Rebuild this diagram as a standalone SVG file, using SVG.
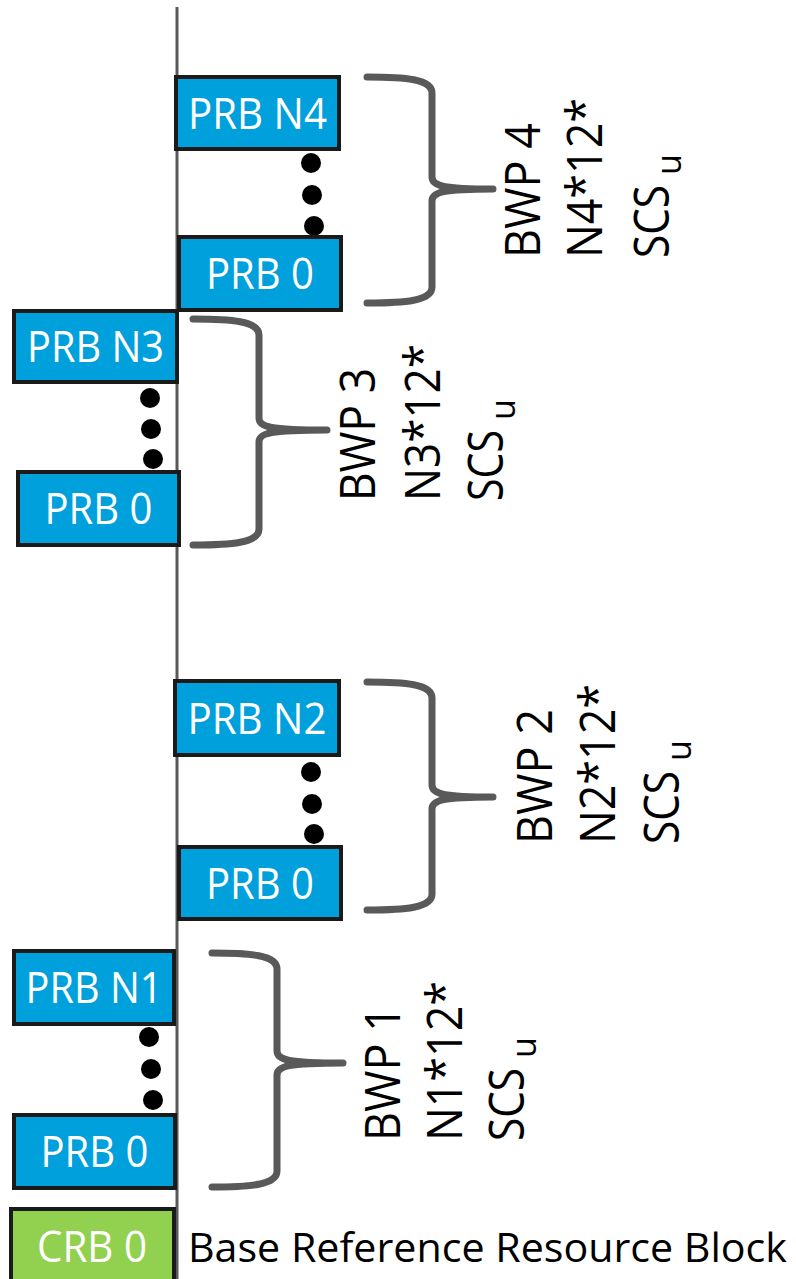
<svg xmlns="http://www.w3.org/2000/svg" width="796" height="1279" viewBox="0 0 796 1279">
<style>
.box{stroke:#1a1a1a;stroke-width:4}
.prb{fill:#00a0dc}
.crb{fill:#92d050}
.lbl{font-family:"Open Sans","Noto Sans",sans-serif;fill:#ffffff;font-size:44px;text-anchor:middle}
.rt{font-family:"Open Sans","Noto Sans",sans-serif;font-size:50px;fill:#000000}
.sub{font-size:34px}
.base{font-family:"Open Sans","Noto Sans",sans-serif;font-size:41px;fill:#000000}
.brace{fill:none;stroke:#595959;stroke-width:7;stroke-linecap:round;stroke-linejoin:round}
.axis{stroke:#595959;stroke-width:3;fill:none}
.dot{fill:#000000}
</style>
<rect width="796" height="1279" fill="#ffffff"/>
<g id="connectors">
<line class="axis" x1="177" y1="7" x2="177" y2="1279"/>
<path class="brace" d="M367,77 C405,77 432,79 432,93 L432,177 C432,186 443,189 493,189 M493,189 C443,189 432,192 432,201 L432,287 C432,301 405,303 367,303"/>
<path class="brace" d="M193,319 C231,319 259,321 259,335 L259,418 C259,427 270,430 327,430 M327,430 C270,430 259,433 259,442 L259,529 C259,543 231,545 193,545"/>
<path class="brace" d="M367,682 C405,682 432,684 432,698 L432,785 C432,794 443,797 493,797 M493,797 C443,797 432,800 432,809 L432,894 C432,908 405,910 367,910"/>
<path class="brace" d="M212,953 C250,953 277,955 277,969 L277,1051 C277,1060 288,1063 343,1063 M343,1063 C288,1063 277,1066 277,1075 L277,1171 C277,1185 250,1187 212,1187"/>
</g>
<g id="bwp4">
<g id="prb-n4"><rect class="box prb" x="176" y="77" width="163" height="72"/><text class="lbl" x="257.5" y="128.5" textLength="139" lengthAdjust="spacingAndGlyphs">PRB N4</text></g>
<g id="dots4"><circle class="dot" cx="311" cy="163" r="10"/><circle class="dot" cx="312" cy="195" r="10"/><circle class="dot" cx="314" cy="226" r="10"/></g>
<g id="prb0-4"><rect class="box prb" x="179" y="237" width="162" height="73"/><text class="lbl" x="260" y="289" textLength="108" lengthAdjust="spacingAndGlyphs">PRB 0</text></g>
<g id="label4">
<text class="rt" transform="translate(540,258) rotate(-90)" textLength="135" lengthAdjust="spacingAndGlyphs">BWP 4</text>
<text class="rt" transform="translate(602,258) rotate(-90)" textLength="160" lengthAdjust="spacingAndGlyphs">N4*12*</text>
<text class="rt" transform="translate(669,258) rotate(-90)"><tspan textLength="73" lengthAdjust="spacingAndGlyphs">SCS</tspan><tspan class="sub" dx="10" dy="12">u</tspan></text>
</g>
</g>
<g id="bwp3">
<g id="prb-n3"><rect class="box prb" x="14" y="311" width="163" height="71"/><text class="lbl" x="95.5" y="362" textLength="137" lengthAdjust="spacingAndGlyphs">PRB N3</text></g>
<g id="dots3"><circle class="dot" cx="150" cy="398" r="10"/><circle class="dot" cx="151" cy="429" r="10"/><circle class="dot" cx="153" cy="459" r="10"/></g>
<g id="prb0-3"><rect class="box prb" x="18" y="472" width="161" height="73"/><text class="lbl" x="98.5" y="524" textLength="108" lengthAdjust="spacingAndGlyphs">PRB 0</text></g>
<g id="label3">
<text class="rt" transform="translate(375,501) rotate(-90)" textLength="133" lengthAdjust="spacingAndGlyphs">BWP 3</text>
<text class="rt" transform="translate(440,501) rotate(-90)" textLength="157" lengthAdjust="spacingAndGlyphs">N3*12*</text>
<text class="rt" transform="translate(503,501) rotate(-90)"><tspan textLength="71" lengthAdjust="spacingAndGlyphs">SCS</tspan><tspan class="sub" dx="10" dy="12">u</tspan></text>
</g>
</g>
<g id="bwp2">
<g id="prb-n2"><rect class="box prb" x="175" y="681" width="164" height="74"/><text class="lbl" x="257" y="733.5" textLength="139" lengthAdjust="spacingAndGlyphs">PRB N2</text></g>
<g id="dots2"><circle class="dot" cx="311" cy="772" r="10"/><circle class="dot" cx="312" cy="804" r="10"/><circle class="dot" cx="314" cy="834" r="10"/></g>
<g id="prb0-2"><rect class="box prb" x="179" y="847" width="162" height="72"/><text class="lbl" x="260" y="898.5" textLength="108" lengthAdjust="spacingAndGlyphs">PRB 0</text></g>
<g id="label2">
<text class="rt" transform="translate(552,844) rotate(-90)" textLength="135" lengthAdjust="spacingAndGlyphs">BWP 2</text>
<text class="rt" transform="translate(615,844) rotate(-90)" textLength="160" lengthAdjust="spacingAndGlyphs">N2*12*</text>
<text class="rt" transform="translate(679,844) rotate(-90)"><tspan textLength="73" lengthAdjust="spacingAndGlyphs">SCS</tspan><tspan class="sub" dx="10" dy="12">u</tspan></text>
</g>
</g>
<g id="bwp1">
<g id="prb-n1"><rect class="box prb" x="14" y="951" width="160" height="73"/><text class="lbl" x="94" y="1003" textLength="137" lengthAdjust="spacingAndGlyphs">PRB N1</text></g>
<g id="dots1"><circle class="dot" cx="149" cy="1037" r="10"/><circle class="dot" cx="151" cy="1069" r="10"/><circle class="dot" cx="153" cy="1100" r="10"/></g>
<g id="prb0-1"><rect class="box prb" x="14" y="1115" width="161" height="73"/><text class="lbl" x="94.5" y="1166.5" textLength="108" lengthAdjust="spacingAndGlyphs">PRB 0</text></g>
<g id="label1">
<text class="rt" transform="translate(400,1141) rotate(-90)" textLength="135" lengthAdjust="spacingAndGlyphs">BWP 1</text>
<text class="rt" transform="translate(462,1141) rotate(-90)" textLength="160" lengthAdjust="spacingAndGlyphs">N1*12*</text>
<text class="rt" transform="translate(524,1141) rotate(-90)"><tspan textLength="73" lengthAdjust="spacingAndGlyphs">SCS</tspan><tspan class="sub" dx="10" dy="12">u</tspan></text>
</g>
</g>
<g id="crb0">
<rect class="box crb" x="11" y="1209" width="163" height="80"/>
<text class="lbl" x="92" y="1262" font-size="41" textLength="110" lengthAdjust="spacingAndGlyphs">CRB 0</text>
</g>
<g id="base-label">
<text class="base" x="188" y="1262" textLength="599" lengthAdjust="spacingAndGlyphs">Base Reference Resource Block</text>
</g>
</svg>
